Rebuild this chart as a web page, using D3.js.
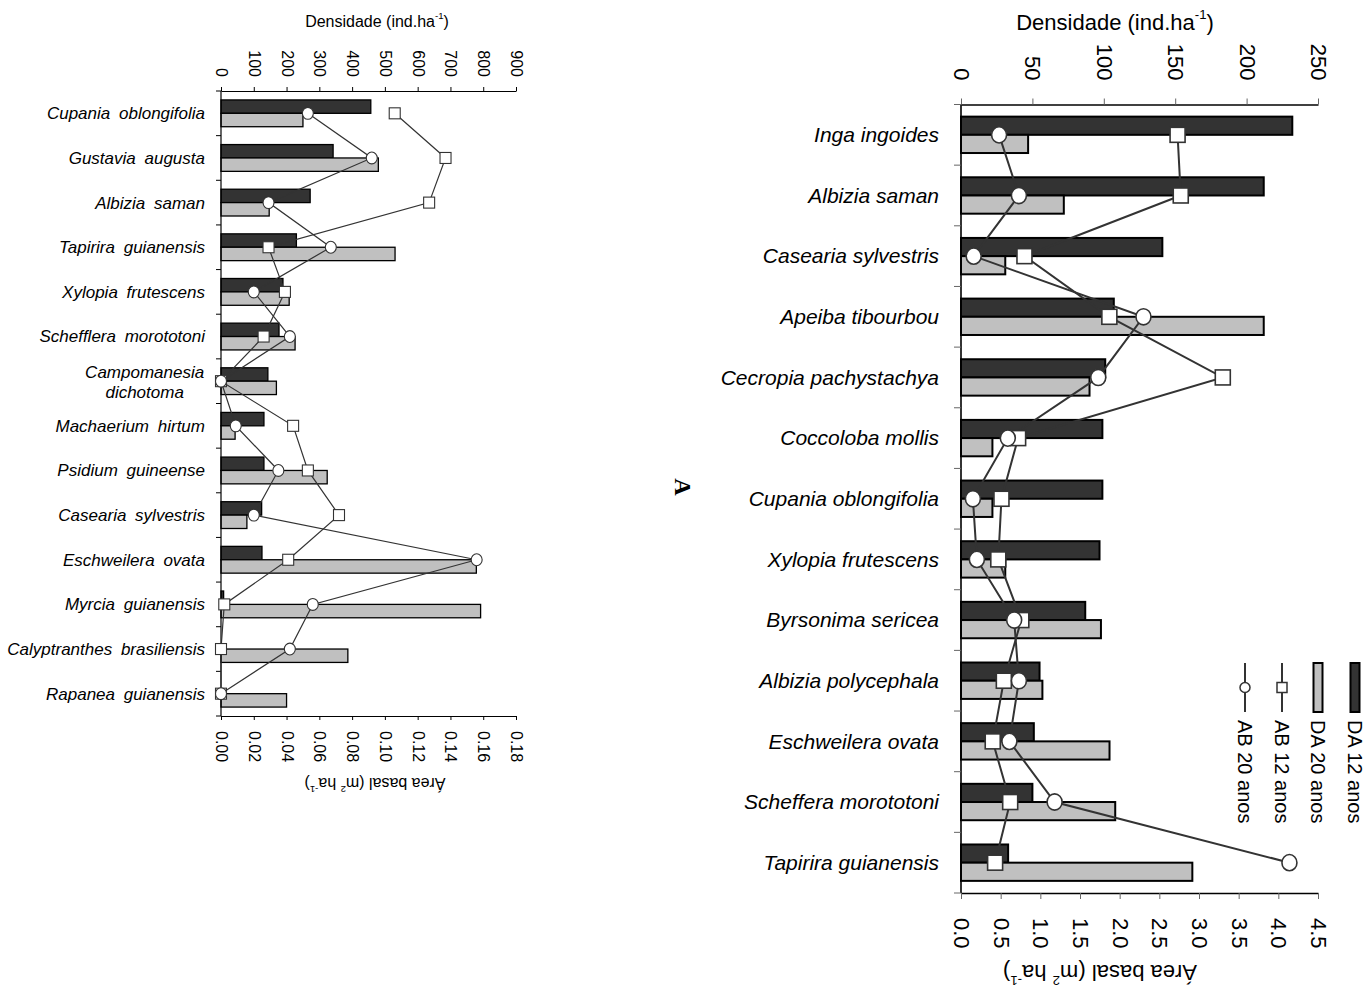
<!DOCTYPE html>
<html><head><meta charset="utf-8">
<script src="https://cdn.jsdelivr.net/npm/d3@7"></script>
<style>
html,body{margin:0;padding:0;background:#fff;}
svg{display:block;font-family:"Liberation Sans",Arial,sans-serif;}
</style></head>
<body>
<svg id="chart" width="1368" height="996"></svg>
<script>
// ---------- DATA: left panel ----------
const leftSpecies = ["Cupania oblongifolia","Gustavia augusta","Albizia saman","Tapirira guianensis",
  "Xylopia frutescens","Schefflera morototoni","Campomanesia dichotoma","Machaerium hirtum",
  "Psidium guineense","Casearia sylvestris","Eschweilera ovata","Myrcia guianensis",
  "Calyptranthes brasiliensis","Rapanea guianensis"];
const leftDA12 = [457,342,272,230,189,177,143,131,131,124,125,8,0,0];
const leftDA20 = [250,480,147,531,208,226,169,43,324,79,779,792,387,200];
const leftAB12 = [0.106,0.137,0.127,0.029,0.039,0.026,0.000,0.044,0.053,0.072,0.041,0.002,0.000,0.000];
const leftAB20 = [0.053,0.092,0.029,0.067,0.020,0.042,0.000,0.009,0.035,0.020,0.156,0.056,0.042,0.000];
const leftDensTicks = [0,100,200,300,400,500,600,700,800,900];
const leftABTicks = [0,0.02,0.04,0.06,0.08,0.10,0.12,0.14,0.16,0.18];

// ---------- DATA: right panel ----------
const rightSpecies = ["Inga ingoides","Albizia saman","Casearia sylvestris","Apeiba tibourbou",
  "Cecropia pachystachya","Coccoloba mollis","Cupania oblongifolia","Xylopia frutescens",
  "Byrsonima sericea","Albizia polycephala","Eschweilera ovata","Scheffera morototoni","Tapirira guianensis"];
const rightDA12 = [232,212,141,107,101,99,99,97,87,55,51,50,33];
const rightDA20 = [47,72,31,212,90,22,22,31,98,57,104,108,162];
const rightAB12 = [2.73,2.77,0.80,1.87,3.30,0.72,0.51,0.47,0.76,0.54,0.40,0.62,0.43];
const rightAB20 = [0.48,0.73,0.16,2.30,1.73,0.59,0.15,0.20,0.67,0.73,0.61,1.18,4.14];
const rightDensTicks = [0,50,100,150,200,250];
const rightABTicks = [0,0.5,1.0,1.5,2.0,2.5,3.0,3.5,4.0,4.5];

const legendLabels = ["DA 12 anos","DA 20 anos","AB 12 anos","AB 20 anos"];
const labelBreaks = {"Campomanesia dichotoma":["Campomanesia","dichotoma"]};

const DARK="#333333", LIGHT="#c0c0c0", LINE="#333333";
const svg = d3.select("#chart");

function title(g, x, y, size, rot, parts){
  const t = g.append("text").attr("transform",`translate(${x},${y}) rotate(${rot})`)
    .attr("text-anchor","middle").attr("dominant-baseline","central")
    .attr("font-size",size).attr("fill","#000");
  parts.forEach(p=>{
    const ts = t.append("tspan").text(p.t);
    if(p.sup) ts.attr("baseline-shift","super").attr("font-size",size*0.6);
  });
}

function panel(o){
  const g = svg.append("g");
  const dens = d3.scaleLinear().domain([0,o.densMax]).range([o.x0,o.x1]);
  const ab = d3.scaleLinear().domain([0,o.abMax]).range([o.x0,o.x1]);
  const yb = d3.scaleBand().domain(o.species).range([o.y0,o.y1]).paddingInner(0.4).paddingOuter(0.2);
  const sub = d3.scaleBand().domain(["DA12","DA20"]).range([0,yb.bandwidth()]);
  const cy = s => yb(s)+yb.bandwidth()/2;

  // bars
  o.species.forEach((s,i)=>{
    g.append("rect").attr("x",o.x0).attr("y",yb(s)+sub("DA12"))
      .attr("width",dens(o.da12[i])-o.x0).attr("height",sub.bandwidth())
      .attr("fill",DARK).attr("stroke","#000").attr("stroke-width",o.bsw);
    g.append("rect").attr("x",o.x0).attr("y",yb(s)+sub("DA20"))
      .attr("width",dens(o.da20[i])-o.x0).attr("height",sub.bandwidth())
      .attr("fill",LIGHT).attr("stroke","#000").attr("stroke-width",o.bsw);
  });

  // top axis (density)
  const ta = g.append("g").attr("transform",`translate(0,${o.y0})`)
    .call(d3.axisTop(dens).tickValues(o.densTicks).tickSize(o.tick).tickSizeOuter(0).tickFormat(d3.format("d")));
  ta.select(".domain").attr("stroke","#000").attr("stroke-width",o.asw);
  ta.selectAll(".tick line").attr("stroke",o.tickCol);
  ta.selectAll("text").attr("transform","rotate(90)").attr("x",-o.topGap).attr("y",0).attr("dy",null)
    .attr("dominant-baseline","central").attr("text-anchor","end")
    .attr("font-size",o.tickFont).attr("font-family","Liberation Sans, Arial, sans-serif").attr("fill","#000");

  // bottom axis (basal area)
  const ba = g.append("g").attr("transform",`translate(0,${o.y1})`)
    .call(d3.axisBottom(ab).tickValues(o.abTicks).tickSize(o.tick).tickSizeOuter(0).tickFormat(d3.format(o.abFmt)));
  ba.select(".domain").attr("stroke","#000").attr("stroke-width",o.asw);
  ba.selectAll(".tick line").attr("stroke",o.tickCol);
  ba.selectAll("text").attr("transform","rotate(90)").attr("x",o.botGap).attr("y",0).attr("dy",null)
    .attr("dominant-baseline","central").attr("text-anchor","start")
    .attr("font-size",o.tickFont).attr("font-family","Liberation Sans, Arial, sans-serif").attr("fill","#000");

  // category axis
  g.append("line").attr("x1",o.x0).attr("x2",o.x0).attr("y1",o.y0).attr("y2",o.y1)
    .attr("stroke","#000").attr("stroke-width",o.asw);
  d3.range(o.species.length+1).forEach(i=>{
    const y = o.y0 + i*yb.step();
    g.append("line").attr("x1",o.x0-o.tick-1).attr("x2",o.x0).attr("y1",y).attr("y2",y)
      .attr("stroke",o.tickCol).attr("stroke-width",1);
  });
  o.species.forEach(s=>{
    const lines = labelBreaks[s];
    if(lines){
      const cx = o.labelX - o.catFont*3.55;
      const t = g.append("text").attr("x",cx).attr("y",cy(s))
        .attr("text-anchor","middle").attr("font-style","italic").attr("font-size",o.catFont)
        .attr("word-spacing",o.wordSp);
      t.append("tspan").attr("x",cx).attr("dy","-0.2em").text(lines[0]);
      t.append("tspan").attr("x",cx).attr("dy","1.2em").text(lines[1]);
    } else {
      g.append("text").attr("x",o.labelX).attr("y",cy(s)).attr("dy","0.35em")
        .attr("text-anchor","end").attr("font-style","italic").attr("font-size",o.catFont)
        .attr("word-spacing",o.wordSp).text(s);
    }
  });

  // lines
  const line = d3.line().x(d=>ab(d.v)).y(d=>cy(d.s));
  const d12 = o.species.map((s,i)=>({s,v:o.ab12[i]}));
  const d20 = o.species.map((s,i)=>({s,v:o.ab20[i]}));
  g.append("path").datum(d12).attr("d",line).attr("fill","none").attr("stroke",LINE).attr("stroke-width",o.lsw);
  g.append("path").datum(d20).attr("d",line).attr("fill","none").attr("stroke",LINE).attr("stroke-width",o.lsw);
  g.selectAll(".sq").data(d12).join("rect")
    .attr("x",d=>ab(d.v)-o.sq/2).attr("y",d=>cy(d.s)-o.sq/2).attr("width",o.sq).attr("height",o.sq)
    .attr("fill","#fff").attr("stroke",LINE).attr("stroke-width",o.msw);
  g.selectAll(".ci").data(d20).join("ellipse")
    .attr("cx",d=>ab(d.v)).attr("cy",d=>cy(d.s)).attr("rx",o.r).attr("ry",o.r*1.08)
    .attr("fill","#fff").attr("stroke",LINE).attr("stroke-width",o.msw);

  // titles
  title(g, o.topTitle[0], o.topTitle[1], o.titleFont, 0,
    [{t:"Densidade (ind.ha"},{t:"-1",sup:true},{t:")"}]);
  title(g, o.botTitle[0], o.botTitle[1], o.titleFont, 180,
    [{t:"Área basal (m"},{t:"2",sup:true},{t:" ha"},{t:"-1",sup:true},{t:")"}]);
}

panel({species:leftSpecies, da12:leftDA12, da20:leftDA20, ab12:leftAB12, ab20:leftAB20,
  densMax:900, abMax:0.18, densTicks:leftDensTicks, abTicks:leftABTicks, abFmt:".2f",
  x0:221, x1:516, y0:91, y1:716, tick:4, tickCol:"#000", asw:1.2, bsw:1.3, lsw:1.2, msw:1.1,
  sq:11, r:5.5, tickFont:16, catFont:17, titleFont:16, wordSp:4, labelX:205,
  topGap:14, botGap:15, topTitle:[377,21], botTitle:[375,784]});

panel({species:rightSpecies, da12:rightDA12, da20:rightDA20, ab12:rightAB12, ab20:rightAB20,
  densMax:250, abMax:4.5, densTicks:rightDensTicks, abTicks:rightABTicks, abFmt:".1f",
  x0:961, x1:1318, y0:104.5, y1:893, tick:6, tickCol:"#666", asw:1.6, bsw:2, lsw:2, msw:1.6,
  sq:15, r:7.5, tickFont:22, catFont:21, titleFont:22, wordSp:0, labelX:939,
  topGap:24, botGap:25, topTitle:[1115,22], botTitle:[1100,973]});

// panel letter
svg.append("text").attr("transform","translate(683,487) rotate(90)")
  .attr("text-anchor","middle").attr("dominant-baseline","central")
  .attr("font-family","Liberation Serif, serif").attr("font-weight","bold").attr("font-size",24).text("A");

// legend
const lg = svg.append("g");
const legX = [1355,1318,1282,1245];
const legTop = 663, legBot = 712;
lg.append("rect").attr("x",legX[0]-4.5).attr("y",legTop).attr("width",9).attr("height",legBot-legTop)
  .attr("fill",DARK).attr("stroke","#000").attr("stroke-width",2);
lg.append("rect").attr("x",legX[1]-4.5).attr("y",legTop).attr("width",9).attr("height",legBot-legTop)
  .attr("fill",LIGHT).attr("stroke","#000").attr("stroke-width",2);
[2,3].forEach(k=>{
  lg.append("line").attr("x1",legX[k]).attr("x2",legX[k]).attr("y1",legTop).attr("y2",legBot)
    .attr("stroke",LINE).attr("stroke-width",2);
});
lg.append("rect").attr("x",legX[2]-5).attr("y",(legTop+legBot)/2-5).attr("width",10).attr("height",10)
  .attr("fill","#fff").attr("stroke",LINE).attr("stroke-width",1.5);
lg.append("circle").attr("cx",legX[3]).attr("cy",(legTop+legBot)/2).attr("r",5)
  .attr("fill","#fff").attr("stroke",LINE).attr("stroke-width",1.5);
legendLabels.forEach((t,k)=>{
  lg.append("text").attr("transform",`translate(${legX[k]},${legBot+8}) rotate(90)`)
    .attr("text-anchor","start").attr("dominant-baseline","central").attr("font-size",20).text(t);
});
</script>
</body></html>
